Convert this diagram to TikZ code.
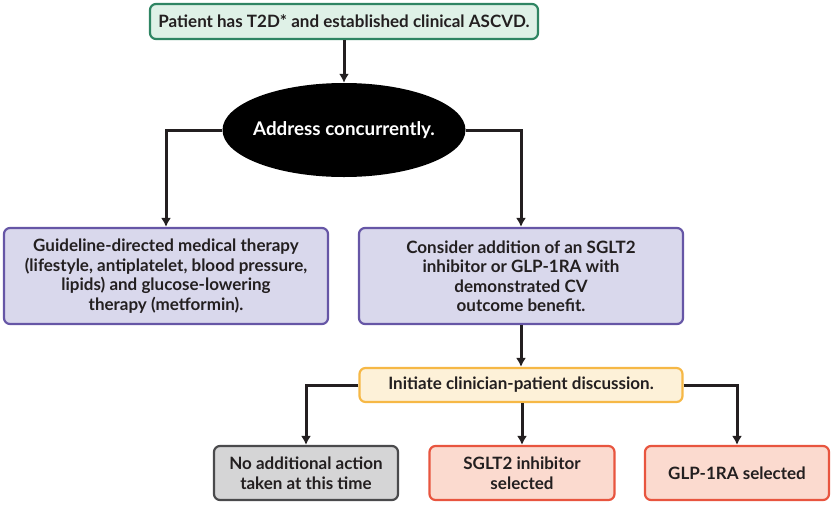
\documentclass[tikz,border=0pt]{standalone}
\usepackage{fontspec}
\setmainfont{Lato}
\usetikzlibrary{shapes.geometric,arrows.meta}

\definecolor{txtdark}{HTML}{231F20}
\definecolor{greenfill}{HTML}{DFF1E7}
\definecolor{greenline}{HTML}{2F8563}
\definecolor{purplefill}{HTML}{D9D8EC}
\definecolor{purpleline}{HTML}{6656A6}
\definecolor{orangefill}{HTML}{FDF1D8}
\definecolor{orangeline}{HTML}{F6B846}
\definecolor{grayfill}{HTML}{D5D5D6}
\definecolor{grayline}{HTML}{4A4A4C}
\definecolor{redfill}{HTML}{FBDACF}
\definecolor{redline}{HTML}{E8553F}

\tikzset{
  box/.style={draw, rounded corners=6pt, line width=2.2pt, align=center,
    text=txtdark, font=\fontsize{17}{19.5}\selectfont\bfseries, inner sep=2pt},
  conn/.style={line width=3pt, draw=txtdark, -{Latex[length=9pt,width=10pt]}}
}

\begin{document}
\begin{tikzpicture}[x=1pt,y=-1pt]
  \useasboundingbox (0,0) rectangle (833,504);

  % Le depart
  \node[box, fill=greenfill, draw=greenline, minimum width=388pt, minimum height=35pt]
    (patient) at (344,21.5) {Patient has T2D* and established clinical ASCVD.};
  \node[ellipse, fill=black, minimum width=243pt, minimum height=94pt, inner xsep=-5pt,
    inner ysep=0pt, text=white, font=\fontsize{18.8}{20}\selectfont\bfseries]
    (address) at (344,130) {Address concurrently.};

  % Les deux branches
  \node[box, fill=purplefill, draw=purpleline, minimum width=324pt, minimum height=96pt]
    (gdmt) at (166,276) {Guideline-directed medical therapy\\(lifestyle, antiplatelet, blood pressure,\\lipids) and glucose-lowering\\therapy (metformin).};
  \node[box, fill=purplefill, draw=purpleline, minimum width=324pt, minimum height=96pt]
    (consider) at (521,276) {Consider addition of an SGLT2\\inhibitor or GLP-1RA with\\demonstrated CV\\outcome benefit.};

  % La discussion
  \node[box, fill=orangefill, draw=orangeline, minimum width=323pt, minimum height=34pt]
    (discuss) at (521,385) {Initiate clinician-patient discussion.};

  % Les choix
  \node[box, fill=grayfill, draw=grayline, minimum width=184pt, minimum height=54pt]
    (noaction) at (306,473) {No additional action\\taken at this time};
  \node[box, fill=redfill, draw=redline, minimum width=185pt, minimum height=54pt]
    (sglt) at (522,473) {SGLT2 inhibitor\\selected};
  \node[box, fill=redfill, draw=redline, minimum width=184pt, minimum height=54pt]
    (glp) at (737,473) {GLP-1RA selected};

  % Les fleches
  \draw[conn] (patient) -- (address);
  \draw[conn] (address.west) -| (gdmt.north);
  \draw[conn] (address.east) -| (consider.north);
  \draw[conn] (consider) -- (discuss);
  \draw[conn] (discuss.west) -| (noaction.north);
  \draw[conn] (discuss.south -| sglt.north) -- (sglt.north);
  \draw[conn] (discuss.east) -| (glp.north);
\end{tikzpicture}
\end{document}
